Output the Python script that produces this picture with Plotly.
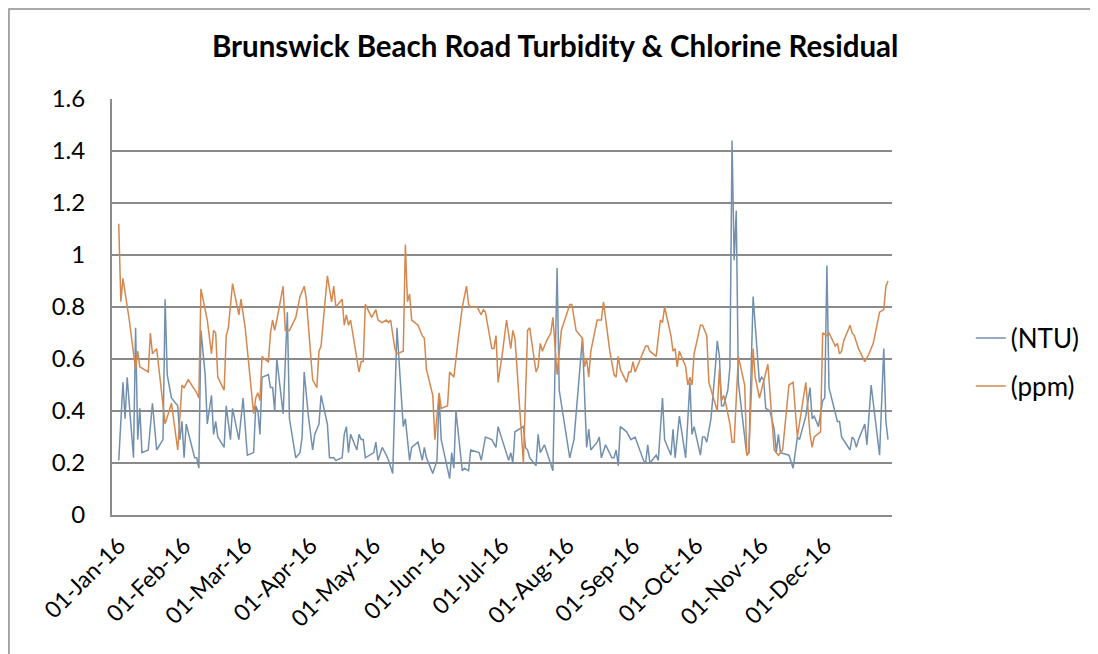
import pandas as pd
import plotly.graph_objects as go

# ---- data (day offset from 01-Jan-2016, value) ----
ntu_days = [0, 2, 3, 4, 7, 8, 9, 10, 11, 14, 16, 18, 21, 22, 23, 25, 28, 29, 30, 31, 32, 36, 37, 38, 39, 41, 42, 44, 45, 46, 47, 50, 51, 53, 54, 57, 59, 61, 64, 65, 66, 67, 68, 71, 72, 73, 74, 75, 78, 80, 81, 84, 86, 87, 88, 90, 92, 93, 95, 96, 99, 100, 102, 103, 106, 107, 108, 109, 110, 113, 114, 115, 116, 117, 121, 122, 123, 125, 127, 128, 130, 132, 135, 136, 138, 139, 142, 144, 145, 146, 149, 151, 152, 153, 157, 158, 159, 160, 163, 164, 166, 167, 171, 172, 174, 177, 179, 180, 185, 186, 187, 188, 192, 193, 194, 195, 198, 199, 200, 202, 206, 208, 209, 214, 216, 220, 222, 223, 224, 227, 228, 229, 231, 234, 235, 236, 237, 238, 241, 243, 245, 249, 250, 251, 252, 255, 256, 258, 259, 262, 263, 264, 266, 269, 271, 272, 273, 276, 277, 278, 279, 281, 283, 284, 285, 286, 287, 289, 290, 291, 292, 293, 294, 297, 298, 299, 301, 304, 305, 306, 307, 309, 310, 311, 312, 313, 314, 318, 320, 322, 323, 326, 328, 329, 330, 332, 334, 335, 336, 337, 341, 342, 343, 347, 348, 349, 350, 351, 354, 355, 357, 361, 363, 364, 365]
ntu_vals = [0.21, 0.51, 0.37, 0.53, 0.22, 0.72, 0.29, 0.41, 0.24, 0.25, 0.43, 0.25, 0.29, 0.83, 0.54, 0.45, 0.42, 0.29, 0.36, 0.22, 0.35, 0.22, 0.22, 0.18, 0.71, 0.54, 0.35, 0.46, 0.31, 0.36, 0.30, 0.26, 0.42, 0.29, 0.41, 0.29, 0.45, 0.23, 0.24, 0.42, 0.40, 0.31, 0.53, 0.54, 0.49, 0.49, 0.40, 0.60, 0.39, 0.78, 0.37, 0.22, 0.24, 0.30, 0.55, 0.38, 0.25, 0.31, 0.35, 0.46, 0.35, 0.22, 0.22, 0.21, 0.22, 0.31, 0.34, 0.24, 0.31, 0.25, 0.31, 0.29, 0.29, 0.22, 0.24, 0.28, 0.21, 0.26, 0.23, 0.21, 0.16, 0.72, 0.34, 0.37, 0.21, 0.26, 0.28, 0.21, 0.26, 0.22, 0.16, 0.21, 0.46, 0.29, 0.14, 0.24, 0.18, 0.40, 0.17, 0.18, 0.17, 0.25, 0.24, 0.21, 0.30, 0.29, 0.26, 0.34, 0.21, 0.24, 0.20, 0.32, 0.34, 0.26, 0.25, 0.22, 0.19, 0.31, 0.24, 0.27, 0.17, 0.95, 0.48, 0.22, 0.29, 0.68, 0.26, 0.33, 0.25, 0.28, 0.30, 0.22, 0.27, 0.22, 0.22, 0.25, 0.19, 0.34, 0.32, 0.29, 0.30, 0.21, 0.20, 0.27, 0.20, 0.23, 0.21, 0.45, 0.29, 0.23, 0.33, 0.22, 0.38, 0.22, 0.51, 0.31, 0.34, 0.23, 0.30, 0.30, 0.28, 0.37, 0.56, 0.67, 0.61, 0.42, 0.42, 0.48, 0.57, 1.44, 0.98, 1.17, 0.51, 0.29, 0.23, 0.24, 0.84, 0.51, 0.53, 0.52, 0.41, 0.40, 0.37, 0.33, 0.24, 0.31, 0.24, 0.23, 0.18, 0.30, 0.29, 0.38, 0.49, 0.37, 0.38, 0.34, 0.44, 0.45, 0.96, 0.49, 0.36, 0.36, 0.30, 0.25, 0.30, 0.29, 0.26, 0.29, 0.35, 0.27, 0.50, 0.23, 0.64, 0.36, 0.29]

ppm_days = [0, 1, 2, 5, 8, 9, 10, 14, 15, 16, 18, 22, 25, 28, 30, 31, 33, 37, 38, 39, 42, 44, 45, 46, 47, 50, 51, 52, 54, 57, 58, 60, 64, 65, 66, 67, 68, 69, 71, 72, 73, 74, 75, 78, 79, 81, 84, 86, 88, 89, 92, 94, 95, 96, 99, 101, 102, 103, 106, 107, 108, 109, 110, 114, 115, 116, 117, 120, 122, 123, 125, 127, 128, 129, 131, 132, 135, 136, 137, 138, 139, 142, 144, 145, 146, 149, 150, 152, 153, 156, 157, 159, 161, 163, 165, 166, 167, 170, 172, 173, 174, 177, 178, 179, 180, 182, 184, 186, 187, 188, 192, 194, 195, 198, 199, 200, 201, 203, 205, 206, 208, 210, 214, 215, 217, 220, 221, 222, 223, 224, 227, 229, 230, 231, 233, 235, 236, 237, 238, 241, 242, 243, 244, 245, 248, 250, 251, 252, 255, 257, 258, 259, 262, 263, 264, 265, 266, 269, 270, 271, 272, 273, 276, 277, 279, 280, 284, 285, 286, 287, 288, 290, 291, 292, 294, 297, 298, 299, 301, 302, 304, 308, 311, 313, 315, 318, 320, 322, 326, 328, 329, 330, 333, 334, 336, 337, 340, 341, 342, 343, 344, 347, 348, 349, 351, 354, 356, 358, 361, 363, 364, 365]
ppm_vals = [1.12, 0.82, 0.91, 0.75, 0.56, 0.63, 0.57, 0.55, 0.70, 0.62, 0.64, 0.35, 0.43, 0.25, 0.50, 0.49, 0.52, 0.47, 0.45, 0.87, 0.75, 0.62, 0.71, 0.70, 0.53, 0.48, 0.69, 0.72, 0.89, 0.77, 0.83, 0.72, 0.39, 0.45, 0.47, 0.44, 0.61, 0.60, 0.59, 0.70, 0.75, 0.71, 0.75, 0.88, 0.71, 0.71, 0.76, 0.84, 0.88, 0.83, 0.52, 0.49, 0.63, 0.65, 0.92, 0.82, 0.88, 0.80, 0.83, 0.73, 0.77, 0.73, 0.75, 0.55, 0.59, 0.59, 0.81, 0.76, 0.79, 0.75, 0.74, 0.75, 0.74, 0.75, 0.64, 0.62, 0.63, 1.04, 0.82, 0.85, 0.75, 0.73, 0.69, 0.68, 0.56, 0.46, 0.29, 0.47, 0.41, 0.42, 0.55, 0.53, 0.67, 0.80, 0.88, 0.81, 0.80, 0.80, 0.77, 0.79, 0.78, 0.64, 0.64, 0.69, 0.51, 0.62, 0.75, 0.64, 0.71, 0.68, 0.20, 0.71, 0.72, 0.55, 0.57, 0.66, 0.63, 0.67, 0.70, 0.76, 0.54, 0.71, 0.81, 0.81, 0.71, 0.68, 0.57, 0.60, 0.53, 0.63, 0.75, 0.75, 0.82, 0.75, 0.63, 0.54, 0.53, 0.61, 0.56, 0.51, 0.55, 0.55, 0.59, 0.55, 0.61, 0.65, 0.65, 0.63, 0.61, 0.75, 0.74, 0.80, 0.69, 0.63, 0.64, 0.57, 0.63, 0.57, 0.50, 0.53, 0.50, 0.62, 0.73, 0.73, 0.69, 0.51, 0.40, 0.56, 0.44, 0.46, 0.43, 0.35, 0.28, 0.28, 0.61, 0.50, 0.23, 0.24, 0.64, 0.53, 0.45, 0.58, 0.25, 0.23, 0.25, 0.50, 0.51, 0.30, 0.51, 0.31, 0.26, 0.30, 0.32, 0.70, 0.69, 0.70, 0.65, 0.66, 0.62, 0.63, 0.67, 0.73, 0.70, 0.69, 0.64, 0.59, 0.62, 0.66, 0.78, 0.79, 0.88, 0.90]

series_names = ["(NTU)", "(ppm)"]
title_text = "Brunswick Beach Road Turbidity & Chlorine Residual"
y_ticks = [0, 0.2, 0.4, 0.6, 0.8, 1, 1.2, 1.4, 1.6]

start = pd.Timestamp("2016-01-01")
ntu_dates = start + pd.to_timedelta(ntu_days, unit="D")
ppm_dates = start + pd.to_timedelta(ppm_days, unit="D")
month_ticks = pd.date_range("2016-01-01", "2016-12-01", freq="MS")

FONT = "Lato"
GRID = "#8a8a8a"
BLUE = "#7290ae"
ORANGE = "#d4884f"

fig = go.Figure()
fig.add_trace(go.Scatter(x=ntu_dates, y=ntu_vals, mode="lines", name=series_names[0],
                         line=dict(color=BLUE, width=1.5), legend="legend",
                         showlegend=True))
fig.add_trace(go.Scatter(x=ppm_dates, y=ppm_vals, mode="lines", name=series_names[1],
                         line=dict(color=ORANGE, width=1.5), legend="legend2",
                         showlegend=True))

x_lo = start + pd.Timedelta(days=-3.2)
x_hi = start + pd.Timedelta(days=366.9)

fig.update_layout(
    width=1090, height=646,
    margin=dict(l=104, r=206, t=91, b=139),
    showlegend=True,
    paper_bgcolor="white", plot_bgcolor="white",
    font=dict(family=FONT, color="black", size=22),
    title=dict(text=title_text, x=0.502, xref="container", xanchor="center",
               y=1 - 39 / 646, yref="container", yanchor="middle",
               font=dict(family=FONT, size=29.5, color="black", weight="bold")),
    xaxis=dict(type="date", range=[x_lo, x_hi], tickvals=month_ticks,
               tickformat="%d-%b-%y", tickangle=-45, showgrid=False,
               showline=True, linecolor=GRID, linewidth=2, ticks="",
               tickfont=dict(size=23), ticklabelstandoff=6),
    yaxis=dict(range=[0, 1.6], tickvals=y_ticks, showgrid=True, gridcolor=GRID,
               gridwidth=2, zeroline=False, showline=True, linecolor=GRID,
               linewidth=2, ticks="", tickfont=dict(size=24), ticklabelstandoff=20),
    legend=dict(x=1.101, y=0.4255, xanchor="left", yanchor="middle",
                font=dict(size=26), bgcolor="rgba(0,0,0,0)"),
    legend2=dict(x=1.101, y=0.31, xanchor="left", yanchor="middle",
                 font=dict(size=26), bgcolor="rgba(0,0,0,0)"),
    shapes=[dict(type="rect", xref="paper", yref="paper",
                 x0=-0.1321, x1=1.2564, y0=-0.36, y1=1.2163,
                 line=dict(color="#8c8c8c", width=1.5), fillcolor="rgba(0,0,0,0)",
                 layer="below")],
)

fig.write_html("out.html")
